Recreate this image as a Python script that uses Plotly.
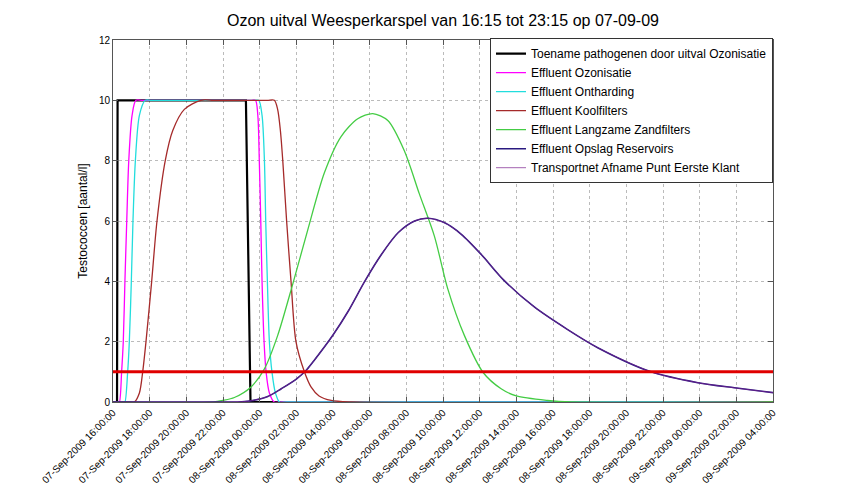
import pandas as pd
import plotly.graph_objects as go

START = pd.Timestamp("2009-09-07 16:00:00")
END_H = 36  # hours shown on the x axis

# hours after 07-Sep-2009 16:00 and testococcen [aantal/l]
ozon_uitval_h = [0, 0.22, 0.25, 7.25, 7.5, 36]
ozon_uitval_v = [0, 0, 10, 10, 0, 0]

ozonisatie_h = [0, 0.3, 0.35, 0.47, 0.56, 0.65, 0.75, 0.86, 1.04, 1.25, 1.6,
                7.5, 7.77, 7.9, 7.98, 8.06, 8.13, 8.24, 8.35, 8.53, 8.8, 9.2, 36]
ozonisatie_v = [0, 0, 0, 1, 2, 4, 6, 8, 9.5, 10, 10,
                10, 10, 9.5, 8, 6, 4, 2, 1, 0.3, 0, 0, 0]

ontharding_h = [0, 0.6, 0.65, 0.8, 0.89, 1.0, 1.09, 1.22, 1.44, 1.76, 2.1,
                7.7, 7.95, 8.13, 8.26, 8.33, 8.42, 8.53, 8.67, 8.86, 9.08, 9.5, 36]
ontharding_v = [0, 0, 0, 1, 2, 4, 6, 8, 9.5, 10, 10,
                10, 10, 9.5, 8, 6, 4, 2, 1, 0.3, 0, 0, 0]

koolfilters_h = [0, 1.0, 1.16, 1.44, 1.62, 1.8, 2.11, 2.4, 2.85, 3.26, 3.89, 4.8, 5.5,
                 8.4, 8.8, 8.98, 9.13, 9.26, 9.47, 9.71, 9.98, 10.44, 10.8, 11.24, 11.9, 13, 36]
koolfilters_v = [0, 0, 0, 0.3, 1, 2, 4, 6, 8, 9, 9.7, 10, 10,
                 10, 10, 9.7, 9, 8, 6, 4, 2, 1, 0.5, 0.2, 0.05, 0, 0]

zandfilters_h = [0, 5.5, 5.98, 6.62, 7.53, 8.26, 8.98, 9.8, 10.62, 11.53, 12.44, 13.35,
                 14.17, 14.99, 15.89, 16.71, 17.53, 18.26, 19.17, 20.2, 21.17, 22.0, 23.7, 25, 36]
zandfilters_v = [0, 0, 0.05, 0.15, 0.5, 1.1, 2.2, 3.9, 5.7, 7.6, 8.8, 9.39,
                 9.56, 9.33, 8.33, 6.9, 5.5, 3.75, 2.2, 0.97, 0.44, 0.2, 0.05, 0, 0]

reservoirs_h = [0, 6.5, 7.0, 7.53, 8.44, 9.18, 10.0, 10.55, 11.0, 12.0, 12.82, 13.73, 14.64,
                15.55, 16.45, 17.18, 18.09, 19.0, 20.09, 21.3, 22.98, 24.8, 26.44, 29.35,
                31.9, 33.9, 36]
reservoirs_v = [0, 0, 0.01, 0.04, 0.18, 0.44, 0.76, 1.06, 1.4, 2.22, 3.0, 4.0, 4.89,
                5.61, 6.0, 6.09, 5.94, 5.56, 4.89, 4.05, 3.15, 2.4, 1.8, 1.0,
                0.64, 0.47, 0.31]

transport_h = reservoirs_h
transport_v = reservoirs_v

LIMIT = 1

series = [
    ("Toename pathogenen door uitval Ozonisatie", ozon_uitval_h, ozon_uitval_v, "#000000", 2.2, "linear"),
    ("Effluent Ozonisatie", ozonisatie_h, ozonisatie_v, "#FF00FF", 1.3, "spline"),
    ("Effluent Ontharding", ontharding_h, ontharding_v, "#22DDDD", 1.3, "spline"),
    ("Effluent Koolfilters", koolfilters_h, koolfilters_v, "#A52A2A", 1.3, "spline"),
    ("Effluent Langzame Zandfilters", zandfilters_h, zandfilters_v, "#44CC44", 1.3, "spline"),
    ("Effluent Opslag Reservoirs", reservoirs_h, reservoirs_v, "#2A1A80", 1.6, "spline"),
    ("Transportnet Afname Punt Eerste Klant", transport_h, transport_v, "#7A1F8E", 0.7, "spline"),
]


def to_time(hours):
    return START + pd.to_timedelta(hours, unit="h")


fig = go.Figure()
for name, h, v, col, w, shape in series:
    fig.add_trace(go.Scatter(x=to_time(h), y=v, name=name, mode="lines",
                             line=dict(color=col, width=w, shape=shape, smoothing=0.8)))

# norm line
fig.add_trace(go.Scatter(x=to_time([0, END_H]), y=[LIMIT, LIMIT], mode="lines",
                         line=dict(color="#E00000", width=3), showlegend=False))

tick_vals = to_time(list(range(0, END_H + 1, 2)))

fig.update_layout(
    width=847, height=491,
    paper_bgcolor="white", plot_bgcolor="white",
    font=dict(family="Liberation Sans, Arial, sans-serif", color="black", size=10),
    margin=dict(l=105, r=82, t=32, b=97),
    title=dict(text="Ozon uitval Weesperkarspel van 16:15 tot 23:15 op 07-09-09",
               x=0.5, xref="paper", xanchor="center", y=0.975, yanchor="middle",
               font=dict(size=16)),
    showlegend=True,
    legend=dict(x=1, xanchor="right", y=1.005, yanchor="top", bgcolor="white",
                bordercolor="#333333", borderwidth=1, font=dict(size=12),
                itemwidth=30, tracegroupgap=0),
    xaxis=dict(range=[to_time(0), to_time(END_H)], tickvals=tick_vals,
               tickformat="%d-%b-%Y %H:%M:%S", tickangle=-45,
               showgrid=True, gridcolor="#BBBBBB", griddash="dot", gridwidth=1,
               ticks="inside", ticklen=5, tickcolor="#555555",
               showline=True, linecolor="#555555", mirror="allticks",
               zeroline=False, automargin=False),
    yaxis=dict(range=[0, 12], dtick=2, title=dict(text="Testococcen [aantal/l]", standoff=8),
               showgrid=True, gridcolor="#BBBBBB", griddash="dot", gridwidth=1,
               ticks="inside", ticklen=5, tickcolor="#555555",
               showline=True, linecolor="#555555", mirror="allticks",
               zeroline=False, automargin=False),
)

fig.write_html("out.html")
